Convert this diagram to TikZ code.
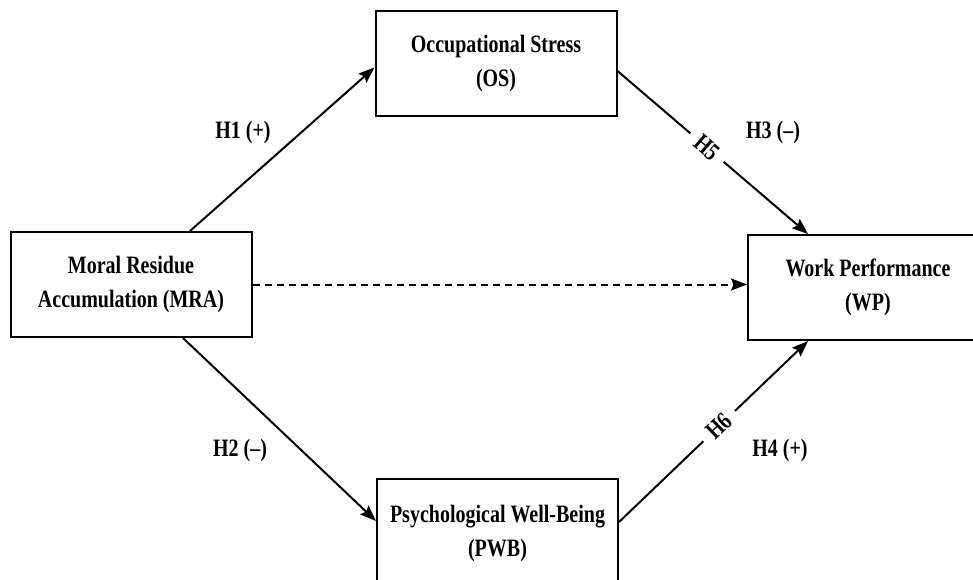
\documentclass[tikz,border=0pt]{standalone}
\usepackage{fontspec}
\newfontfamily\diagfont[FakeStretch=0.8]{Liberation Serif}
\usepackage{tikz}
\usetikzlibrary{arrows.meta,positioning,calc}
\tikzset{
  path/.style={-{Stealth[length=16pt,width=12pt,inset=2.5pt]},black,line width=2pt},
  pathdashed/.style={path,dash pattern=on 7pt off 5pt},
  construct/.style={draw=black,line width=2pt,fill=white,align=center,
                    minimum width=241pt,minimum height=105pt,inner sep=0pt,
                    font=\diagfont\bfseries\fontsize{25}{34}\selectfont},
  hyp/.style={font=\diagfont\bfseries\fontsize{25}{28}\selectfont,inner sep=1pt},
  hypon/.style={hyp,fill=white,sloped,inner xsep=9pt,inner ysep=3pt},
}

\begin{document}
\begin{tikzpicture}[x=1pt,y=-1pt]
  \path[fill=white,use as bounding box] (0,0) rectangle (973,580);

  \node[construct] (mra) at (131,284.5) {Moral Residue\\Accumulation (MRA)};
  \node[construct] (os)  at (496,63.5)  {Occupational Stress\\(OS)};
  \node[construct,minimum height=108pt] (pwb) at (497.5,533) {Psychological Well-Being\\(PWB)};
  \node[construct,minimum width=240pt] (wp) at (868,287.5) {Work Performance\\(WP)};

  \node[hyp] (h1) at (243,132) {H1 (+)};
  \node[hyp] (h2) at (240,450) {H2 (–)};
  \node[hyp] (h3) at (773,132) {H3 (–)};
  \node[hyp] (h4) at (780,450) {H4 (+)};

  \draw[path] ([xshift=59]mra.north) -- ([yshift=-4]os.west);
  \draw[path] ([xshift=52]mra.south) -- ([yshift=12]pwb.west);
  \draw[path] ([yshift=-7.5]os.east) -- node[hypon,pos=0.47] (h5) {H5} ([xshift=-60]wp.north);
  \draw[path] ([yshift=11]pwb.east) -- node[hypon,pos=0.53] (h6) {H6} ([xshift=-60]wp.south);
  \draw[pathdashed] (mra.east) -- (mra.east -| wp.west);
\end{tikzpicture}
\end{document}
